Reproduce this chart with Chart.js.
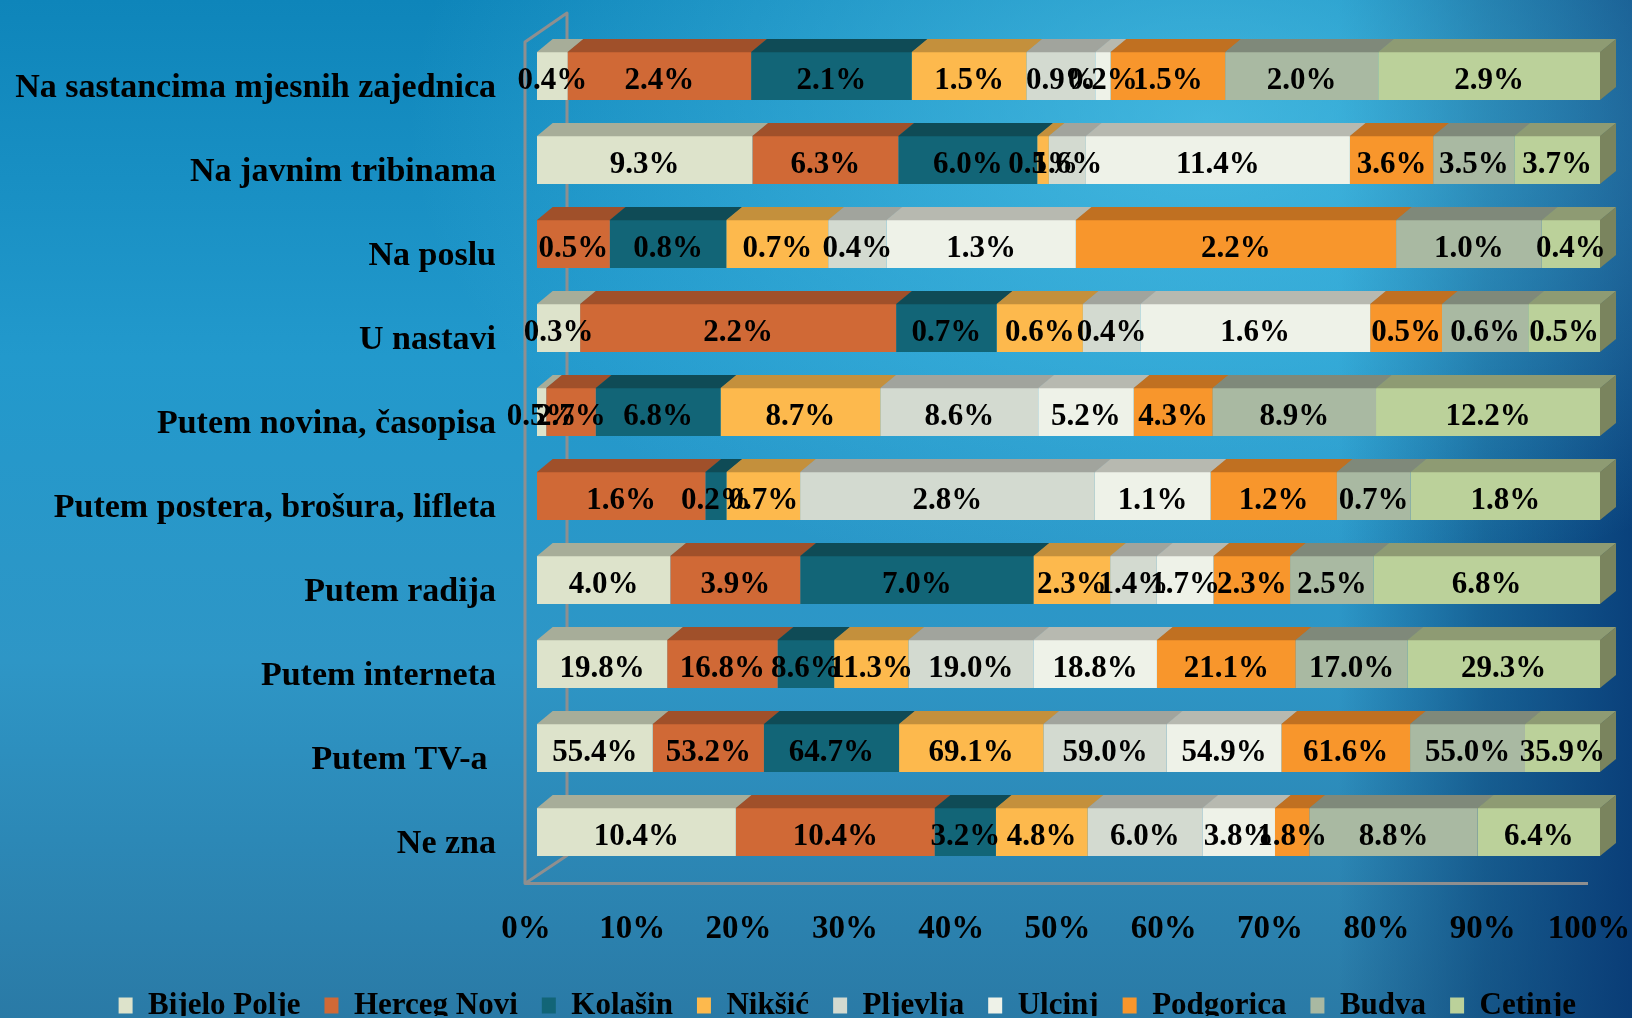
<!DOCTYPE html>
<html><head><meta charset="utf-8">
<script src="https://cdn.jsdelivr.net/npm/chart.js@4.4.0/dist/chart.umd.min.js"></script>
<style>
html,body{margin:0;padding:0;width:1632px;height:1018px;overflow:hidden;}
body{
 background:
  radial-gradient(ellipse 800px 480px at 74% 12%, rgba(95,210,242,0.6), rgba(95,210,242,0) 100%),
  linear-gradient(90deg, rgba(4,45,100,0) 0%, rgba(4,45,100,0) 82%, rgba(4,55,110,0.55) 91%, rgba(4,50,110,0.85) 100%),
  linear-gradient(180deg, #0e85ba 0%, #2299cc 35%, #2e96c6 65%, #2a7aa6 100%);
}
#wrap{position:relative;width:1632px;height:1018px;}
</style></head><body><div id="wrap"><canvas id="c" width="1632" height="1018"></canvas></div>
<script>
const categories = ['Na sastancima mjesnih zajednica','Na javnim tribinama','Na poslu','U nastavi','Putem novina, časopisa','Putem postera, brošura, lifleta','Putem radija','Putem interneta','Putem TV-a ','Ne zna'];
const cities = ['Bijelo Polje','Herceg Novi','Kolašin','Nikšić','Pljevlja','Ulcinj','Podgorica','Budva','Cetinje'];

const bijeloPolje = [0.4, 9.3, null, 0.3, 0.5, null, 4.0, 19.8, 55.4, 10.4];
const hercegNovi  = [2.4, 6.3, 0.5, 2.2, 2.7, 1.6, 3.9, 16.8, 53.2, 10.4];
const kolasin     = [2.1, 6.0, 0.8, 0.7, 6.8, 0.2, 7.0, 8.6, 64.7, 3.2];
const niksic      = [1.5, 0.5, 0.7, 0.6, 8.7, 0.7, 2.3, 11.3, 69.1, 4.8];
const pljevlja    = [0.9, 1.6, 0.4, 0.4, 8.6, 2.8, 1.4, 19.0, 59.0, 6.0];
const ulcinj      = [0.2, 11.4, 1.3, 1.6, 5.2, 1.1, 1.7, 18.8, 54.9, 3.8];
const podgorica   = [1.5, 3.6, 2.2, 0.5, 4.3, 1.2, 2.3, 21.1, 61.6, 1.8];
const budva       = [2.0, 3.5, 1.0, 0.6, 8.9, 0.7, 2.5, 17.0, 55.0, 8.8];
const cetinje     = [2.9, 3.7, 0.4, 0.5, 12.2, 1.8, 6.8, 29.3, 35.9, 6.4];

const xTickValues = [0,10,20,30,40,50,60,70,80,90,100];

const series = [bijeloPolje, hercegNovi, kolasin, niksic, pljevlja, ulcinj, podgorica, budva, cetinje];
const frontColors = ['#dde3cb','#d06936','#126577','#fdb94d','#d3dad0','#eef2e8','#f8962c','#a9b9a2','#bbd19a'];
const topColors   = ['#a7ad99','#a0502a','#0f4b56','#c4903c','#a1a49d','#b7b9b0','#c07021','#7f897a','#8e9b73'];
const sideColors  = ['#8d937f','#8a4524','#0c3f49','#a87b33','#888b84','#9a9c94','#a55f1c','#6c7568','#7a845e'];

const rowTotals = categories.map((c,i)=>series.reduce((s,arr)=>s+(arr[i]||0),0));

const FONT = "'Liberation Serif', 'DejaVu Serif', serif";
const DX = 16, DY = 13;

const threeD = {
  id:'threeD',
  beforeDatasetsDraw(chart){
    const ctx = chart.ctx, xs = chart.scales.x, ca = chart.chartArea;
    const x0 = xs.getPixelForValue(0), x100 = xs.getPixelForValue(100);
    ctx.save();
    ctx.strokeStyle = '#8f8f8f';
    ctx.lineWidth = 3;
    ctx.lineJoin = 'round';
    ctx.beginPath();
    ctx.moveTo(x0-12, ca.bottom+9.5);
    ctx.lineTo(x0-12, ca.top+8);
    ctx.lineTo(x0+30, ca.top-21);
    ctx.lineTo(x0+30, ca.bottom-18.5);
    ctx.lineTo(x0-12, ca.bottom+9.5);
    ctx.lineTo(x100-12, ca.bottom+9.5);
    ctx.stroke();
    ctx.restore();
  },
  afterDatasetsDraw(chart){
    const ctx = chart.ctx;
    ctx.save();
    const labels = [];
    for (let i=0;i<categories.length;i++){
      let last = null;
      chart.data.datasets.forEach((ds,di)=>{
        const v = series[di][i];
        if (v==null || v===0) return;
        const el = chart.getDatasetMeta(di).data[i];
        const p = el.getProps(['x','y','base','height'], true);
        const x1 = Math.min(p.base,p.x), x2 = Math.max(p.base,p.x);
        const yT = p.y - p.height/2, yB = p.y + p.height/2;
        ctx.fillStyle = topColors[di];
        ctx.beginPath();
        ctx.moveTo(x1-0.3,yT+0.3); ctx.lineTo(x1+DX-0.3,yT-DY); ctx.lineTo(x2+DX+0.3,yT-DY); ctx.lineTo(x2+0.3,yT+0.3);
        ctx.closePath(); ctx.fill();
        last = {x2,yT,yB,di};
        labels.push({t:v.toFixed(1)+'%', x:(x1+x2)/2, y:p.y+5});
      });
      if (last){
        ctx.fillStyle = sideColors[last.di];
        ctx.beginPath();
        ctx.moveTo(last.x2,last.yT); ctx.lineTo(last.x2+DX,last.yT-DY);
        ctx.lineTo(last.x2+DX,last.yB-DY); ctx.lineTo(last.x2,last.yB);
        ctx.closePath(); ctx.fill();
      }
    }
    ctx.fillStyle = '#000';
    ctx.font = "bold 31px " + FONT;
    ctx.textAlign = 'center';
    ctx.textBaseline = 'middle';
    labels.forEach(l=>ctx.fillText(l.t,l.x,l.y));
    ctx.restore();
  }
};

const datasets = cities.map((name,di)=>({
  label: name,
  data: series[di].map((v,i)=> v==null ? null : v/rowTotals[i]*100),
  backgroundColor: frontColors[di],
  borderWidth: 0,
  barPercentage: 0.572,
  categoryPercentage: 1.0
}));

new Chart(document.getElementById('c'), {
  type:'bar',
  data:{labels:categories, datasets},
  plugins:[threeD],
  options:{
    indexAxis:'y',
    responsive:false,
    animation:false,
    layout:{padding:{left:0,right:32,top:34,bottom:2}},
    scales:{
      x:{
        stacked:true, min:0, max:100,
        afterBuildTicks(scale){ scale.ticks = xTickValues.map(v=>({value:v})); },
        afterFit(scale){ scale.height = 92; scale.paddingLeft = 0; scale.paddingRight = 0; },
        grid:{display:false, drawTicks:false},
        border:{display:false},
        ticks:{
          callback:(v)=>v+'%',
          color:'#000',
          font:{family:FONT, size:33, weight:'bold'},
          padding:36,
          labelOffset:-11,
          maxRotation:0, autoSkip:false
        }
      },
      y:{
        stacked:true,
        afterFit(scale){ scale.width = 537; scale.paddingTop = 0; scale.paddingBottom = 0; },
        grid:{display:false, drawTicks:false},
        border:{display:false},
        ticks:{
          color:'#000',
          font:{family:FONT, size:34, weight:'bold'},
          padding:41,
          labelOffset:12,
          autoSkip:false
        }
      }
    },
    plugins:{
      legend:{
        position:'bottom',
        align:'end',
        maxHeight:50,
        labels:{
          color:'#000',
          font:{family:FONT, size:31, weight:'bold'},
          boxWidth:14, boxHeight:16, padding:24
        }
      },
      tooltip:{enabled:false}
    }
  }
});
</script></body></html>
